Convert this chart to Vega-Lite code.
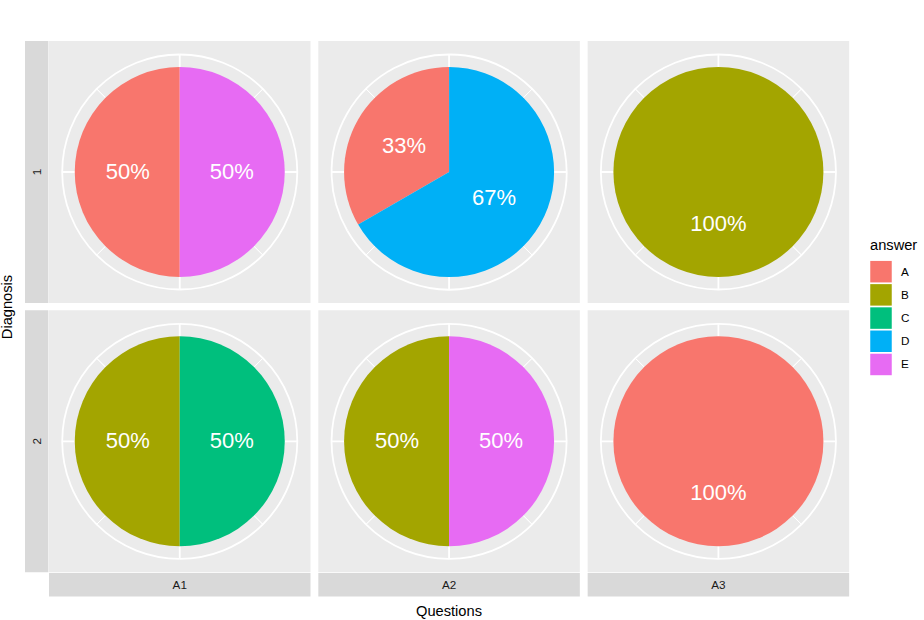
{
  "$schema": "https://vega.github.io/schema/vega-lite/v6.json",
  "padding": {"left": 0, "top": 41, "right": 0, "bottom": 0},
  "background": "white",
  "config": {
    "font": "Liberation Sans",
    "view": {"stroke": null}
  },
  "datasets": {
    "pies": [
      {"Diagnosis": "1", "Questions": "A1", "answer": "A", "pct": 50, "label": "50%"},
      {"Diagnosis": "1", "Questions": "A1", "answer": "E", "pct": 50, "label": "50%"},
      {"Diagnosis": "1", "Questions": "A2", "answer": "A", "pct": 33.33, "label": "33%"},
      {"Diagnosis": "1", "Questions": "A2", "answer": "D", "pct": 66.67, "label": "67%"},
      {"Diagnosis": "1", "Questions": "A3", "answer": "B", "pct": 100, "label": "100%"},
      {"Diagnosis": "2", "Questions": "A1", "answer": "B", "pct": 50, "label": "50%"},
      {"Diagnosis": "2", "Questions": "A1", "answer": "C", "pct": 50, "label": "50%"},
      {"Diagnosis": "2", "Questions": "A2", "answer": "B", "pct": 50, "label": "50%"},
      {"Diagnosis": "2", "Questions": "A2", "answer": "E", "pct": 50, "label": "50%"},
      {"Diagnosis": "2", "Questions": "A3", "answer": "A", "pct": 100, "label": "100%"}
    ],
    "breaks": [
      {"at": 0, "kind": "major"},
      {"at": 12.5, "kind": "minor"},
      {"at": 25, "kind": "major"},
      {"at": 37.5, "kind": "minor"},
      {"at": 50, "kind": "major"},
      {"at": 62.5, "kind": "minor"},
      {"at": 75, "kind": "major"},
      {"at": 87.5, "kind": "minor"}
    ],
    "rowStrips": [{"Diagnosis": "1"}, {"Diagnosis": "2"}],
    "colStrips": [{"Questions": "A1"}, {"Questions": "A2"}, {"Questions": "A3"}]
  },
  "spacing": 0,
  "hconcat": [
    {
      "data": {"name": "rowStrips"},
      "spacing": 7.33,
      "facet": {
        "row": {
          "field": "Diagnosis", "type": "nominal", "title": "Diagnosis",
          "header": {"labels": false, "titleOrient": "left", "titleFontSize": 14.67, "titleFontWeight": "normal", "titleColor": "black", "titlePadding": 0, "titleFont": "Liberation Sans"}
        }
      },
      "spec": {
        "width": 23.4,
        "height": 262,
        "view": {"fill": "#D9D9D9", "stroke": null},
        "mark": {"type": "text", "angle": 270, "fontSize": 11.7, "color": "#1A1A1A", "align": "center", "baseline": "middle"},
        "encoding": {"text": {"field": "Diagnosis", "type": "nominal"}}
      }
    },
    {
      "spacing": 0,
      "vconcat": [
        {
          "data": {"name": "pies"},
          "spacing": 7.33,
          "facet": {
            "row": {"field": "Diagnosis", "type": "nominal", "header": null},
            "column": {"field": "Questions", "type": "nominal", "header": null}
          },
          "spec": {
            "width": 261.5,
            "height": 262,
            "view": {"fill": "#EBEBEB", "stroke": null},
            "layer": [
              {
                "data": {"name": "breaks"},
                "mark": {"type": "arc", "innerRadius": 0, "outerRadius": 117.5, "filled": false, "color": "white"},
                "encoding": {
                  "theta": {"field": "at", "type": "quantitative", "stack": null},
                  "theta2": {"field": "at"},
                  "strokeWidth": {"field": "kind", "type": "nominal", "scale": {"domain": ["major", "minor"], "range": [1.8, 0.9]}, "legend": null}
                }
              },
              {
                "mark": {"type": "arc", "innerRadius": 117.5, "outerRadius": 117.5, "filled": false, "color": "white", "strokeWidth": 1.8},
                "encoding": {
                  "theta": {"field": "pct", "type": "quantitative", "stack": true},
                  "order": {"field": "answer", "sort": "descending"}
                }
              },
              {
                "mark": {"type": "arc", "outerRadius": 105},
                "encoding": {
                  "theta": {"field": "pct", "type": "quantitative", "stack": true},
                  "order": {"field": "answer", "sort": "descending"},
                  "color": {
                    "field": "answer", "type": "nominal",
                    "scale": {"domain": ["A", "B", "C", "D", "E"], "range": ["#F8766D", "#A3A500", "#00BF7D", "#00B0F6", "#E76BF3"]},
                    "legend": {
                      "title": "answer", "orient": "none", "legendX": 845, "legendY": 197,
                      "symbolType": "square", "symbolSize": 462, "symbolStrokeWidth": 0, "symbolOpacity": 1,
                      "rowPadding": 1.2, "labelFontSize": 11.7, "labelColor": "black", "labelOffset": 9,
                      "titleFontSize": 14.67, "titleFontWeight": "normal", "titleColor": "black", "titlePadding": 8,
                      "labelFont": "Liberation Sans", "titleFont": "Liberation Sans"
                    }
                  }
                }
              },
              {
                "mark": {"type": "text", "radius": 52, "fontSize": 22, "color": "white", "align": "center", "baseline": "middle"},
                "encoding": {
                  "theta": {"field": "pct", "type": "quantitative", "stack": true},
                  "order": {"field": "answer", "sort": "descending"},
                  "text": {"field": "label", "type": "nominal"}
                }
              }
            ]
          }
        },
        {
          "data": {"name": "colStrips"},
          "spacing": 7.33,
          "facet": {
            "column": {
              "field": "Questions", "type": "nominal", "title": "Questions",
              "header": {"labels": false, "titleOrient": "bottom", "titleFontSize": 14.67, "titleFontWeight": "normal", "titleColor": "black", "titlePadding": -3, "titleFont": "Liberation Sans"}
            }
          },
          "spec": {
            "width": 261.5,
            "height": 23.4,
            "view": {"fill": "#D9D9D9", "stroke": null},
            "mark": {"type": "text", "fontSize": 11.7, "color": "#1A1A1A", "align": "center", "baseline": "middle"},
            "encoding": {"text": {"field": "Questions", "type": "nominal"}}
          }
        }
      ]
    }
  ]
}
